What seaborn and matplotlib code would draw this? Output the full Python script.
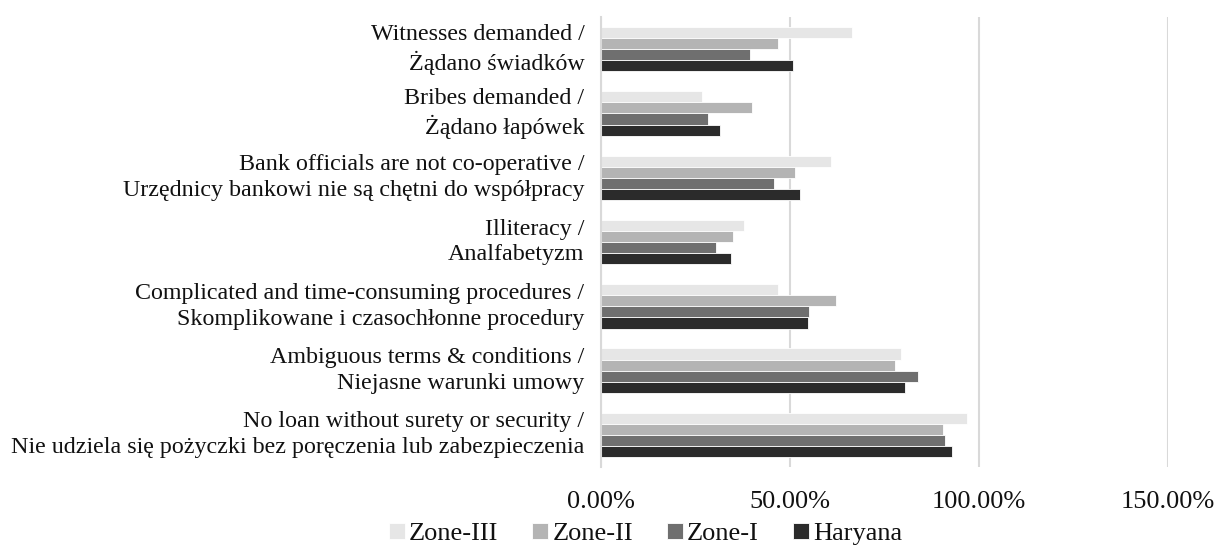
import numpy as np
import pandas as pd
import matplotlib
matplotlib.use("Agg")
import matplotlib.pyplot as plt
import matplotlib.transforms as mtransforms
import seaborn as sns

# ---- data ----
categories = [
    "Witnesses demanded /\nŻądano świadków",
    "Bribes demanded /\nŻądano łapówek",
    "Bank officials are not co-operative /\nUrzędnicy bankowi nie są chętni do współpracy",
    "Illiteracy /\nAnalfabetyzm",
    "Complicated and time-consuming procedures /\nSkomplikowane i czasochłonne procedury",
    "Ambiguous terms & conditions /\nNiejasne warunki umowy",
    "No loan without surety or security /\nNie udziela się pożyczki bez poręczenia lub zabezpieczenia",
]
series = ["Zone-III", "Zone-II", "Zone-I", "Haryana"]
zone3 = [66.4, 26.8, 60.8, 37.8, 46.8, 79.4, 96.9]
zone2 = [46.7, 39.9, 51.3, 34.9, 62.3, 77.9, 90.4]
zone1 = [39.3, 28.3, 45.8, 30.3, 54.9, 83.9, 90.9]
haryana = [50.9, 31.6, 52.6, 34.4, 54.7, 80.3, 92.8]
colors = ["#e6e6e6", "#b4b4b4", "#6f6f6f", "#2b2b2b"]

df = pd.DataFrame({
    "category": categories * 4,
    "series": np.repeat(series, len(categories)),
    "value": zone3 + zone2 + zone1 + haryana,
})

sns.set_theme(style="white")
plt.rcParams["font.family"] = ["Liberation Serif", "DejaVu Serif"]

fig = plt.figure(figsize=(12.18, 5.47), dpi=100)
ax = fig.add_axes([0.4934, 0.146, 0.4656, 0.823])

sns.barplot(data=df, y="category", x="value", hue="series",
            order=categories, hue_order=series, palette=colors,
            width=0.69, edgecolor="white", linewidth=0.6,
            orient="h", ax=ax, legend=True)

ax.set_xlim(0, 150)
ax.set_xticks([0, 50, 100, 150])
ax.set_xticklabels(["0.00%", "50.00%", "100.00%", "150.00%"])
ax.set_xlabel("")
ax.set_ylabel("")
ax.grid(axis="x", color="#d9d9d9", lw=1.5)
ax.set_axisbelow(True)
for s in ["top", "right", "bottom"]:
    ax.spines[s].set_visible(False)
ax.spines["left"].set_color("#d9d9d9")
ax.spines["left"].set_linewidth(1.5)
ax.tick_params(axis="x", length=0, pad=17, labelsize=19, colors="#111111")
ax.tick_params(axis="y", length=0, pad=12, labelsize=17.3, colors="#111111")

# labels sit a little above the bar-group centre in the original
shift = mtransforms.ScaledTranslation(0, 5 / 100, fig.dpi_scale_trans)
for lab in ax.get_yticklabels():
    lab.set_linespacing(1.3)
    lab.set_transform(lab.get_transform() + shift)

handles, labels = ax.get_legend_handles_labels()
ax.get_legend().remove()
fig.legend(handles, labels, loc="center", bbox_to_anchor=(0.53, 0.024),
           ncol=4, frameon=False, fontsize=19, handlelength=0.6,
           handleheight=0.6, handletextpad=0.15, columnspacing=1.3,
           borderaxespad=0, labelcolor="#111111")

fig.savefig("out.png", dpi=100)
